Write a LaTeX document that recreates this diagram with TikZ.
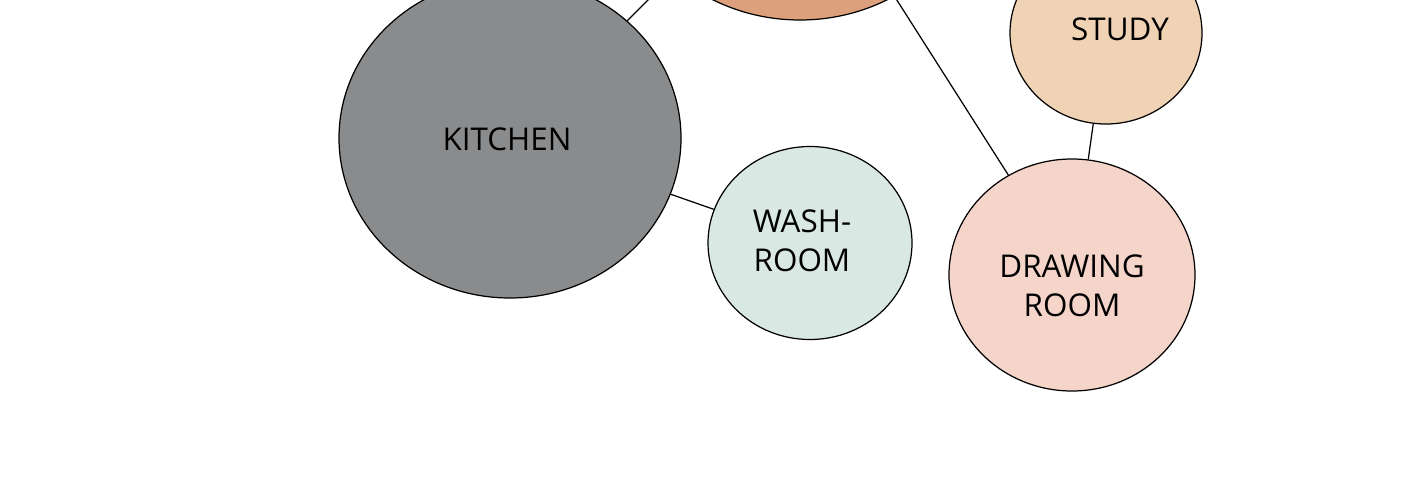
\documentclass[tikz,border=0pt]{standalone}
\usepackage{fontspec}
\setmainfont{Open Sans}
\usepackage{tikz}
\usetikzlibrary{shapes.geometric, positioning}

\definecolor{kitchengray}{HTML}{8A8B8D}
\definecolor{livingorange}{HTML}{DDA07C}
\definecolor{studybeige}{HTML}{F0D3B4}
\definecolor{washblue}{HTML}{DAE8E4}
\definecolor{drawpink}{HTML}{F5D4CA}

\newcommand{\px}{0.03cm}

\tikzset{
  room/.style={ellipse, draw=black, line width=1.05pt, inner sep=0pt},
  roomname/.style={font=\fontsize{26.8}{33.5}\selectfont, align=center, text=black},
  link/.style={line width=1.05pt}
}

\begin{document}
\begin{tikzpicture}[x=\px, y=-\px]
  % frame of the picture
  \useasboundingbox (0,0) rectangle (1426,494);
  \clip (0,0) rectangle (1426,494);

  % Rooms (bubbles)
  \node[room, fill=livingorange, minimum width=370*\px, minimum height=344*\px] (living) at (800,-152) {};
  \node[room, fill=kitchengray, minimum width=342*\px, minimum height=320*\px] (kitchen) at (510,138) {};
  \node[room, fill=washblue, minimum width=204*\px, minimum height=193*\px] (washroom) at (810,243) {};
  \node[room, fill=studybeige, minimum width=192*\px, minimum height=182*\px] (study) at (1106,33) {};
  \node[room, fill=drawpink, minimum width=246*\px, minimum height=232*\px] (drawing) at (1072,275) {};

  % Links between rooms
  \draw[link] (kitchen) -- (living);
  \draw[link] (kitchen) -- (washroom);
  \draw[link] (living) -- (drawing);
  \draw[link] (study) -- (drawing);

  % Labels
  \node[roomname] (kitchenname) at (507,139) {KITCHEN};
  \node[roomname] (washname) at (802,241) {WASH-\\ROOM};
  \node[roomname] (studyname) at (1120,29) {STUDY};
  \node[roomname] (drawingname) at (1072,286) {DRAWING\\ROOM};
\end{tikzpicture}
\end{document}
